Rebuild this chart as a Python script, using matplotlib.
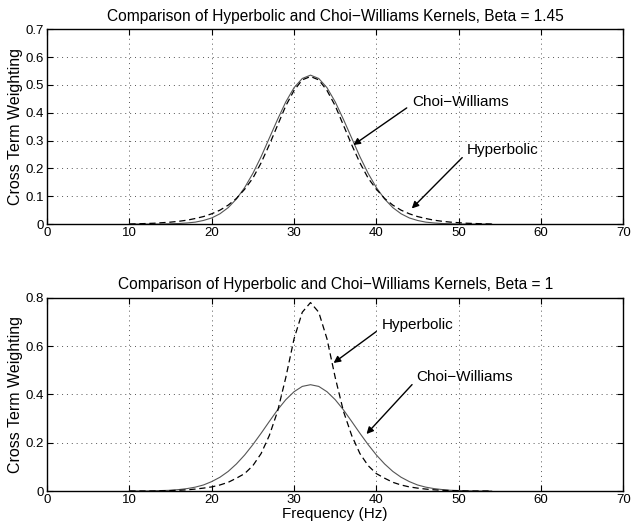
import numpy as np
import matplotlib
matplotlib.use('Agg')
import matplotlib.pyplot as plt

plt.rcParams['font.family'] = ['Liberation Sans', 'DejaVu Sans']

# Frequency axis shared by both kernels (Hz), 10 .. 54
freq = np.arange(10, 55)

# Beta = 1.45
cw_145 = [0.000, 0.000, 0.000, 0.000, 0.000, 0.001, 0.002, 0.004, 0.007, 0.013,
          0.022, 0.037, 0.059, 0.090, 0.131, 0.182, 0.242, 0.309, 0.376, 0.439,
          0.490, 0.523, 0.535, 0.523, 0.490, 0.439, 0.376, 0.309, 0.242, 0.182,
          0.131, 0.090, 0.059, 0.037, 0.022, 0.013, 0.007, 0.004, 0.002, 0.001,
          0.000, 0.000, 0.000, 0.000, 0.000]
hyp_145 = [0.000, 0.001, 0.002, 0.003, 0.005, 0.007, 0.010, 0.014, 0.020, 0.027,
           0.037, 0.050, 0.068, 0.092, 0.125, 0.165, 0.220, 0.285, 0.355, 0.425,
           0.480, 0.518, 0.530, 0.518, 0.480, 0.425, 0.355, 0.285, 0.220, 0.165,
           0.125, 0.092, 0.068, 0.050, 0.037, 0.027, 0.020, 0.014, 0.010, 0.007,
           0.005, 0.003, 0.002, 0.001, 0.000]

# Beta = 1
cw_1 = [0.000, 0.000, 0.000, 0.001, 0.002, 0.003, 0.006, 0.010, 0.016, 0.025,
        0.039, 0.057, 0.081, 0.112, 0.149, 0.192, 0.239, 0.288, 0.336, 0.378,
        0.411, 0.433, 0.440, 0.433, 0.411, 0.378, 0.336, 0.288, 0.239, 0.192,
        0.149, 0.112, 0.081, 0.057, 0.039, 0.025, 0.016, 0.010, 0.006, 0.003,
        0.002, 0.001, 0.000, 0.000, 0.000]
hyp_1 = [0.000, 0.000, 0.000, 0.000, 0.001, 0.002, 0.003, 0.005, 0.008, 0.012,
         0.017, 0.025, 0.036, 0.053, 0.072, 0.105, 0.155, 0.230, 0.330, 0.470,
         0.630, 0.740, 0.780, 0.740, 0.630, 0.470, 0.330, 0.230, 0.155, 0.105,
         0.072, 0.053, 0.036, 0.025, 0.017, 0.012, 0.008, 0.005, 0.003, 0.002,
         0.001, 0.000, 0.000, 0.000, 0.000]

panels = [
    dict(beta='1.45', cw=cw_145, hyp=hyp_145, ymax=0.7, yticks=np.arange(0, 0.71, 0.1),
         ylabels=['0', '0.1', '0.2', '0.3', '0.4', '0.5', '0.6', '0.7'],
         notes=[('Choi\u2212Williams', (44.3, 0.44), (37.2, 0.284)),
                ('Hyperbolic', (51.0, 0.266), (44.3, 0.056))]),
    dict(beta='1', cw=cw_1, hyp=hyp_1, ymax=0.8, yticks=np.arange(0, 0.81, 0.2),
         ylabels=['0', '0.2', '0.4', '0.6', '0.8'],
         notes=[('Hyperbolic', (40.6, 0.687), (34.8, 0.53)),
                ('Choi\u2212Williams', (44.9, 0.473), (38.8, 0.236))]),
]

fig = plt.figure(figsize=(6.32, 5.31), dpi=100)
rects = [[0.0744, 0.578, 0.912, 0.367], [0.0744, 0.0753, 0.912, 0.364]]

for rect, p in zip(rects, panels):
    ax = fig.add_axes(rect)
    ax.plot(freq, p['cw'], color='#555555', lw=0.8, ls='-')
    ax.plot(freq, p['hyp'], color='black', lw=0.9, ls=(0, (5, 3)))
    ax.set_xlim(0, 70)
    ax.set_ylim(0, p['ymax'])
    ax.set_xticks(range(0, 71, 10))
    ax.set_yticks(p['yticks'])
    ax.set_yticklabels(p['ylabels'])
    ax.grid(True, ls=(0, (1, 4)), color='#555555', lw=0.7)
    ax.tick_params(direction='in', top=True, right=True, labelsize=9.5, length=4, pad=2)
    for s in ax.spines.values():
        s.set_linewidth(1.0)
    ax.set_title('Comparison of Hyperbolic and Choi\u2212Williams Kernels, Beta = ' + p['beta'],
                 fontsize=11.2, pad=6)
    ax.set_ylabel('Cross Term Weighting', fontsize=11.5, labelpad=2)
    for text, xy_text, xy_tip in p['notes']:
        ax.annotate(text, xy=xy_tip, xytext=xy_text, fontsize=11, ha='left', va='center',
                    arrowprops=dict(arrowstyle='-|>', color='black', lw=1.0,
                                    mutation_scale=10, shrinkA=2, shrinkB=0,
                                    relpos=(0, 0.3)))
    last = ax

last.set_xlabel('Frequency (Hz)', fontsize=11, labelpad=1)

fig.savefig('out.png', dpi=100)
